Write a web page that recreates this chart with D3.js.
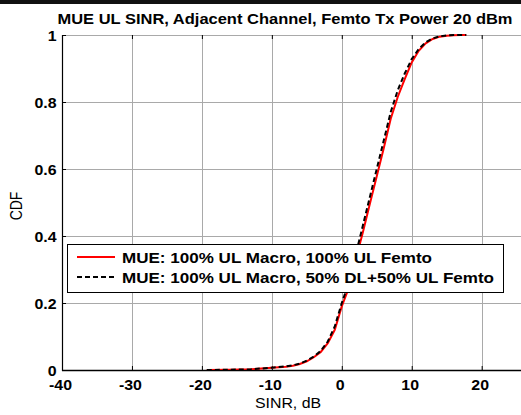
<!DOCTYPE html>
<html>
<head>
<meta charset="utf-8">
<script src="https://cdn.jsdelivr.net/npm/d3@7"></script>
<style>
  html, body { margin: 0; padding: 0; background: #fff; }
  svg { display: block; }
  text { font-family: Arial, "Liberation Sans", sans-serif; fill: #000; }
</style>
</head>
<body>
<svg id="chart" width="521" height="415"></svg>
<script>
// SINR sample points (dB) and CDF values for each configuration
const sinrFull = [-19.3, -16, -13, -10, -8, -7, -6, -5, -4, -3, -2, -1, 0, 1, 2, 3, 4, 5, 6, 7, 8, 9, 10, 11, 12, 13, 14, 15, 16, 17, 17.8];
const cdfFull  = [0, 0.001, 0.002, 0.007, 0.010, 0.013, 0.018, 0.026, 0.038, 0.054, 0.080, 0.120, 0.190, 0.245, 0.330, 0.410, 0.495, 0.578, 0.662, 0.750, 0.815, 0.868, 0.918, 0.953, 0.975, 0.988, 0.995, 0.998, 0.999, 1.0, 1.0];

const sinrSplit = [-19.3, -16, -13, -10, -8, -7, -6, -5, -4, -3, -2, -1, 0, 1, 2, 3, 4, 5, 6, 7, 8, 9, 10, 11, 12, 13, 14, 15, 16, 17, 17.8];
const cdfSplit  = [0, 0.001, 0.002, 0.007, 0.011, 0.014, 0.019, 0.028, 0.040, 0.057, 0.085, 0.130, 0.200, 0.260, 0.345, 0.430, 0.515, 0.600, 0.685, 0.770, 0.835, 0.885, 0.928, 0.958, 0.978, 0.990, 0.996, 0.999, 1.0, 1.0, 1.0];

const seriesNames = ["MUE: 100% UL Macro, 100% UL Femto", "MUE: 100% UL Macro, 50% DL+50% UL Femto"];
const seriesColors = ["#ff0000", "#000000"];

const xTicks = [-40, -30, -20, -10, 0, 10, 20, 30];
const yTicks = [0, 0.2, 0.4, 0.6, 0.8, 1];
const xTickLabels = ["-40", "-30", "-20", "-10", "0", "10", "20", "30"];
const yTickLabels = ["0", "0.2", "0.4", "0.6", "0.8", "1"];

const titleText = "MUE UL SINR, Adjacent Channel, Femto Tx Power 20 dBm";
const xLabel = "SINR, dB";
const yLabel = "CDF";

const W = 521, H = 415;
const plot = { left: 62, top: 35, right: 551.6, bottom: 370 };
const SX = 1.137; // horizontal text stretch

const svg = d3.select("#chart");

const x = d3.scaleLinear().domain([-40, 30]).range([plot.left, plot.right]);
const y = d3.scaleLinear().domain([0, 1]).range([plot.bottom, plot.top]);

function stretchedText(g, str, px, py, anchor, size, weight) {
  return g.append("text")
    .attr("transform", `translate(${px},${py}) scale(${SX},1)`)
    .attr("text-anchor", anchor)
    .attr("font-size", size)
    .attr("font-weight", weight)
    .text(str);
}

// frame strip across the top
svg.append("rect").attr("x", 0).attr("y", 0).attr("width", W).attr("height", 4).attr("fill", "#111");

// grid
const grid = svg.append("g").attr("stroke", "#a9a9a9").attr("stroke-width", 1);
grid.selectAll("line.gx").data(xTicks.filter(d => d > -40)).join("line")
  .attr("x1", d => Math.round(x(d)) + 0.5).attr("x2", d => Math.round(x(d)) + 0.5)
  .attr("y1", plot.top).attr("y2", plot.bottom);
grid.selectAll("line.gy").data(yTicks.filter(d => d > 0)).join("line")
  .attr("x1", plot.left).attr("x2", W)
  .attr("y1", d => Math.round(y(d)) + 0.5).attr("y2", d => Math.round(y(d)) + 0.5);

// tick marks (inward) via d3 axes
const axisStyle = g => {
  g.select(".domain").remove();
  g.selectAll(".tick line").attr("stroke", "#000");
  g.selectAll(".tick text").remove();
};
svg.append("g").attr("transform", `translate(0,${plot.bottom})`)
  .call(d3.axisBottom(x).tickValues(xTicks).tickSize(-4).tickFormat(""))
  .call(axisStyle);
svg.append("g").attr("transform", `translate(0,${plot.top})`)
  .call(d3.axisTop(x).tickValues(xTicks).tickSize(-4).tickFormat(""))
  .call(axisStyle);
svg.append("g").attr("transform", `translate(${plot.left},0)`)
  .call(d3.axisLeft(y).tickValues(yTicks).tickSize(-4).tickFormat(""))
  .call(axisStyle);

// axis lines
svg.append("line").attr("x1", plot.left + 0.5).attr("x2", plot.left + 0.5)
  .attr("y1", plot.top).attr("y2", plot.bottom + 1).attr("stroke", "#000").attr("stroke-width", 1.2);
svg.append("line").attr("x1", plot.left).attr("x2", W)
  .attr("y1", plot.bottom + 0.5).attr("y2", plot.bottom + 0.5).attr("stroke", "#000").attr("stroke-width", 1.5);

// curves
svg.append("clipPath").attr("id", "clip").append("rect")
  .attr("x", plot.left).attr("y", plot.top - 2).attr("width", plot.right - plot.left).attr("height", plot.bottom - plot.top + 2);

const line = d3.line().x(d => x(d[0])).y(d => y(d[1]));
const curves = svg.append("g").attr("clip-path", "url(#clip)").attr("fill", "none");
curves.append("path").datum(d3.zip(sinrFull, cdfFull))
  .attr("d", line).attr("stroke", seriesColors[0]).attr("stroke-width", 2);
curves.append("path").datum(d3.zip(sinrSplit, cdfSplit))
  .attr("d", line).attr("stroke", seriesColors[1]).attr("stroke-width", 2).attr("stroke-dasharray", "5,3");

// tick labels
const labels = svg.append("g");
xTicks.forEach((t, i) => {
  if (x(t) < W) stretchedText(labels, xTickLabels[i], x(t) - 1.5, 390, "middle", 14, "bold");
});
yTicks.forEach((t, i) => {
  stretchedText(labels, yTickLabels[i], 56.5, y(t) + 5.5, "end", 14, "bold");
});

// title and axis labels
stretchedText(svg, titleText, 285, 24, "middle", 14.5, "bold");
stretchedText(svg, xLabel, 288, 408, "middle", 14, "normal");
svg.append("text")
  .attr("transform", `translate(22,206) rotate(-90) scale(1,${SX})`)
  .attr("text-anchor", "middle").attr("font-size", 14).text(yLabel);

// legend
const lg = svg.append("g");
lg.append("rect").attr("x", 67.5).attr("y", 244.5).attr("width", 436).attr("height", 48)
  .attr("fill", "#fff").attr("stroke", "#000").attr("stroke-width", 1);
const rows = [257, 277];
seriesNames.forEach((name, i) => {
  lg.append("line").attr("x1", 77).attr("x2", 115).attr("y1", rows[i]).attr("y2", rows[i])
    .attr("stroke", seriesColors[i]).attr("stroke-width", 2)
    .attr("stroke-dasharray", i === 1 ? "5,3" : null);
  stretchedText(lg, name, 122, rows[i] + 6, "start", 15, "bold");
});
</script>
</body>
</html>
